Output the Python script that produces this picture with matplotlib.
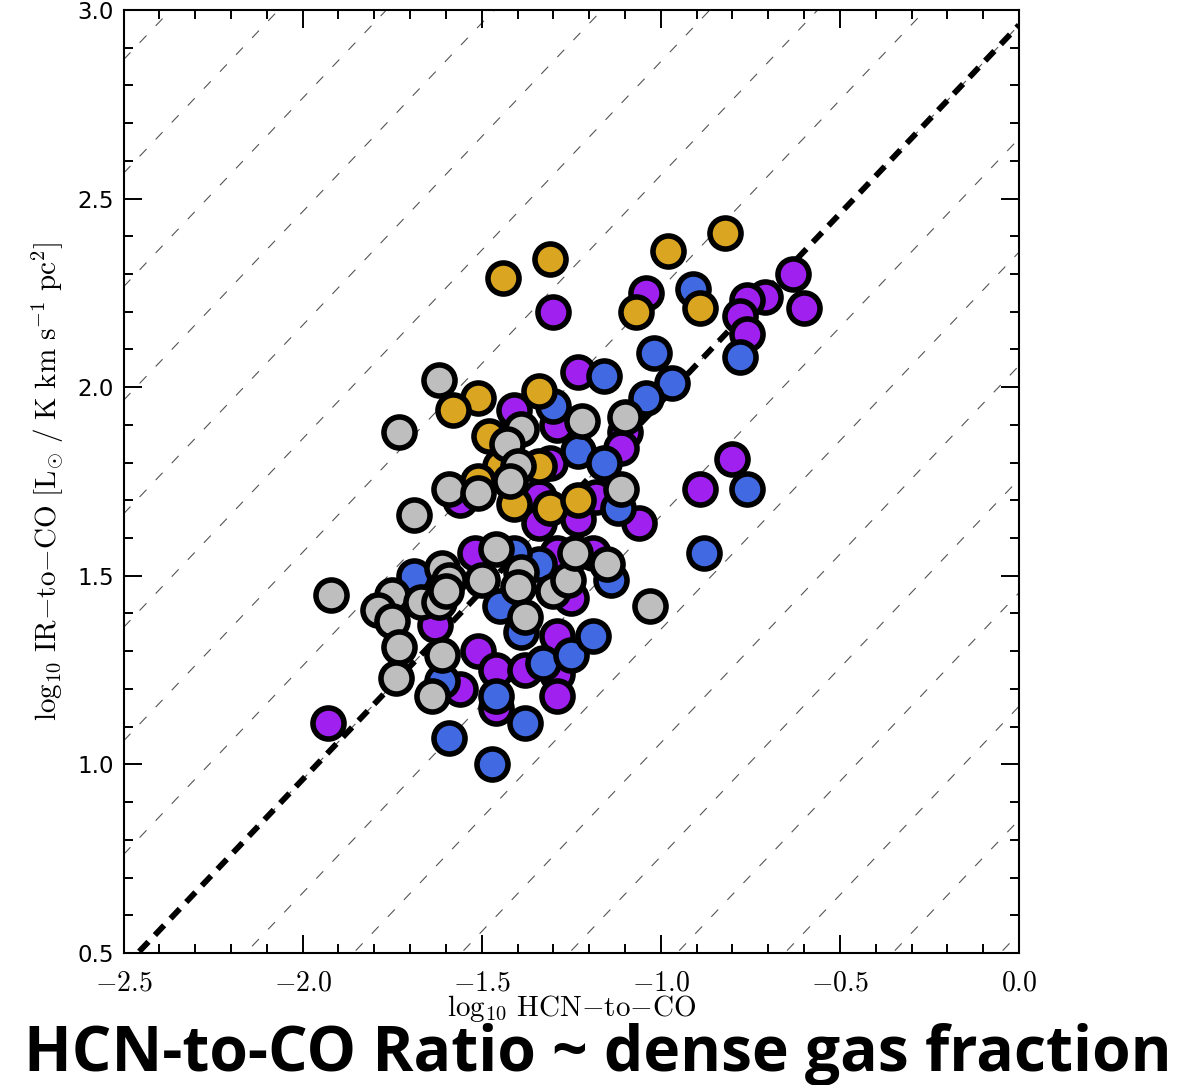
import matplotlib
matplotlib.use("Agg")
import matplotlib.pyplot as plt
import numpy as np
from matplotlib.ticker import MultipleLocator, FuncFormatter

plt.rcParams["mathtext.fontset"] = "cm"

# log10 HCN/CO (x) and log10 IR/CO (y) per sample
purple_x = [-0.63, -0.60, -0.71, -0.76, -0.78, -0.76, -1.04, -1.30, -1.23, -1.41,
            -1.29, -1.10, -1.11, -1.31, -1.34, -1.18, -1.23, -1.34, -1.06, -0.80,
            -0.89, -1.56, -1.52, -1.29, -1.19, -1.25, -1.63, -1.56, -1.51, -1.46,
            -1.38, -1.29, -1.29, -1.29, -1.46, -1.93]
purple_y = [2.30, 2.21, 2.24, 2.23, 2.19, 2.14, 2.25, 2.20, 2.04, 1.94,
            1.90, 1.88, 1.84, 1.80, 1.71, 1.71, 1.65, 1.64, 1.64, 1.81,
            1.73, 1.70, 1.56, 1.56, 1.56, 1.44, 1.37, 1.20, 1.30, 1.25,
            1.25, 1.34, 1.24, 1.18, 1.15, 1.11]

blue_x = [-0.91, -1.02, -0.97, -1.04, -0.78, -1.16, -1.30, -1.23, -1.16, -1.12,
          -0.76, -0.88, -1.69, -1.34, -1.41, -1.14, -1.45, -1.39, -1.33, -1.25,
          -1.19, -1.61, -1.46, -1.38, -1.59, -1.47]
blue_y = [2.26, 2.09, 2.01, 1.97, 2.08, 2.03, 1.95, 1.83, 1.80, 1.68,
          1.73, 1.56, 1.50, 1.53, 1.56, 1.49, 1.42, 1.35, 1.27, 1.29,
          1.34, 1.22, 1.18, 1.11, 1.07, 1.00]

gold_x = [-0.82, -0.98, -1.31, -1.44, -1.07, -0.89, -1.51, -1.58, -1.34, -1.48,
          -1.34, -1.45, -1.51, -1.41, -1.31, -1.23]
gold_y = [2.41, 2.36, 2.34, 2.29, 2.20, 2.21, 1.97, 1.94, 1.99, 1.87,
          1.79, 1.79, 1.75, 1.69, 1.68, 1.70]

gray_x = [-1.62, -1.73, -1.39, -1.43, -1.40, -1.42, -1.22, -1.10, -1.11, -1.59,
          -1.51, -1.69, -1.46, -1.50, -1.39, -1.40, -1.30, -1.26, -1.24, -1.15,
          -1.38, -1.92, -1.61, -1.59, -1.75, -1.79, -1.67, -1.62, -1.60, -1.75,
          -1.73, -1.61, -1.74, -1.64, -1.03]
gray_y = [2.02, 1.88, 1.89, 1.85, 1.79, 1.75, 1.91, 1.92, 1.73, 1.73,
          1.72, 1.66, 1.57, 1.49, 1.51, 1.47, 1.46, 1.49, 1.56, 1.53,
          1.39, 1.45, 1.52, 1.49, 1.45, 1.41, 1.43, 1.43, 1.46, 1.38,
          1.31, 1.29, 1.23, 1.18, 1.42]

# constant IR/HCN: reference line and factor-of-two steps around it
ref_offset = 2.96
step = np.log10(2.0)

fig = plt.figure(figsize=(11.96, 10.85), dpi=100)
ax = fig.add_axes([0.1033, 0.1217, 0.7487, 0.8691])
ax.set_xlim(-2.5, 0.0)
ax.set_ylim(0.5, 3.0)

xx = np.array([-2.5, 0.0])
for k in range(-9, 10):
    ax.plot(xx, xx + ref_offset + k * step, color="#555555", lw=0.8,
            dashes=(9, 12), zorder=1)
ax.plot(xx, xx + ref_offset, color="black", lw=4.2, dashes=(2.3, 1.6),
        dash_capstyle="butt", zorder=2)

groups = [
    (purple_x, purple_y, "#A020F0", 3),
    (blue_x, blue_y, "#4169E1", 4),
    (gold_x, gold_y, "#DAA520", 5),
    (gray_x, gray_y, "#BEBEBE", 6),
]
for gx, gy, col, z in groups:
    ax.scatter(gx, gy, s=500, c=col, edgecolors="black", linewidths=4.0,
               zorder=z, clip_on=False)

for side in ax.spines.values():
    side.set_linewidth(1.5)

ax.xaxis.set_major_locator(MultipleLocator(0.5))
ax.xaxis.set_minor_locator(MultipleLocator(0.1))
ax.yaxis.set_major_locator(MultipleLocator(0.5))
ax.yaxis.set_minor_locator(MultipleLocator(0.1))
ax.tick_params(which="both", direction="in", top=True, right=True, width=1.4)
ax.tick_params(which="major", length=13)
ax.tick_params(which="minor", length=6.5)
ax.tick_params(axis="x", which="major", pad=11, labelsize=20)
ax.tick_params(axis="y", which="major", pad=7, labelsize=16.5)

ax.xaxis.set_major_formatter(FuncFormatter(lambda v, p: r"$%.1f$" % v))
ax.yaxis.set_major_formatter(FuncFormatter(lambda v, p: "%.1f" % v))
for lbl in ax.get_yticklabels():
    lbl.set_family("DejaVu Sans")

ax.set_xlabel(r"$\mathrm{log}_{10}\ \mathrm{HCN{-}to{-}CO}$", fontsize=21,
              labelpad=-2)
ax.set_ylabel(r"$\mathrm{log}_{10}\ \mathrm{IR{-}to{-}CO}\ [\mathrm{L}_{\odot}\ /\ "
              r"\mathrm{K\ km\ s}^{-1}\ \mathrm{pc}^{2}]$", fontsize=21,
              labelpad=8)

# big caption along the bottom, scaled to span the figure width
title = fig.text(0.5, 0.0125, "HCN-to-CO Ratio ~ dense gas fraction",
                 ha="center", va="baseline", fontsize=44,
                 fontweight="bold", family=["Open Sans", "DejaVu Sans"])
renderer = fig.canvas.get_renderer()
w = title.get_window_extent(renderer).width
title.set_fontsize(44 * 1150.0 / w)

fig.savefig("out.png", dpi=100)
